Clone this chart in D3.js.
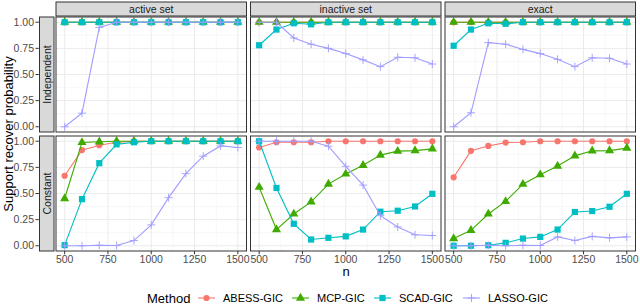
<!DOCTYPE html>
<html lang="en">
  <head>
    <meta charset="UTF-8" />
    <title>Support recover probability</title>
    <script src="https://d3js.org/d3.v7.min.js"></script>
    <style>
      body {
        margin: 0;
        background: #ffffff;
        font-family: "Liberation Sans", Arial, sans-serif;
      }
      .tick-label {
        font-size: 10.5px;
        fill: #4d4d4d;
      }
      .strip-text {
        font-size: 10.5px;
        fill: #1a1a1a;
      }
      .axis-title {
        font-size: 13px;
        fill: #000;
      }
    </style>
  </head>
  <body>
    <svg id="chart" width="640" height="306"></svg>

    <script>
      // sample sizes on the x axis
      const nValues = [500, 600, 700, 800, 900, 1000, 1100, 1200, 1300, 1400, 1500];
      const methods = ["ABESS-GIC", "MCP-GIC", "SCAD-GIC", "LASSO-GIC"];
      const colLabels = ["active set", "inactive set", "exact"];
      const rowLabels = ["Independent", "Constant"];
      const xTicks = [500, 750, 1000, 1250, 1500];
      const yTicks = [0, 0.25, 0.5, 0.75, 1];

      // each panel: [ABESS, MCP, SCAD, LASSO]
      const indActive = [
        [1, 1, 1, 1, 1, 1, 1, 1, 1, 1, 1],
        [1, 1, 1, 1, 1, 1, 1, 1, 1, 1, 1],
        [1, 1, 1, 1, 1, 1, 1, 1, 1, 1, 1],
        [0, 0.13, 0.95, 1, 1, 1, 1, 1, 1, 1, 1],
      ];
      const indInactive = [
        [1, 1, 1, 1, 1, 1, 1, 1, 1, 1, 1],
        [1, 1, 1, 1, 1, 1, 1, 1, 1, 1, 1],
        [0.78, 0.93, 0.99, 0.98, 1, 1, 1, 1, 1, 1, 1],
        [1, 1, 0.85, 0.79, 0.75, 0.7, 0.64, 0.575, 0.665, 0.66, 0.6],
      ];
      const indExact = [
        [1, 1, 1, 1, 1, 1, 1, 1, 1, 1, 1],
        [1, 1, 1, 1, 1, 1, 1, 1, 1, 1, 1],
        [0.775, 0.93, 0.99, 0.985, 1, 1, 1, 1, 1, 1, 1],
        [0, 0.134, 0.805, 0.79, 0.74, 0.7, 0.645, 0.575, 0.66, 0.655, 0.6],
      ];
      const conActive = [
        [0.67, 0.915, 0.962, 0.99, 1, 1, 1, 1, 1, 1, 1],
        [0.452, 0.988, 0.995, 1, 1, 1, 1, 1, 1, 1, 1],
        [0.006, 0.446, 0.79, 0.97, 0.99, 1, 1, 1, 1, 1, 1],
        [0, 0, 0.005, 0.002, 0.05, 0.2, 0.46, 0.69, 0.857, 0.955, 0.94],
      ];
      const conInactive = [
        [0.94, 0.99, 0.99, 0.99, 1, 1, 1, 1, 1, 1, 1],
        [0.56, 0.155, 0.304, 0.42, 0.59, 0.687, 0.77, 0.867, 0.905, 0.91, 0.927],
        [1, 0.553, 0.21, 0.06, 0.076, 0.09, 0.155, 0.326, 0.335, 0.376, 0.497],
        [1, 1, 1, 1, 0.952, 0.76, 0.58, 0.288, 0.18, 0.105, 0.098],
      ];
      const conExact = [
        [0.655, 0.908, 0.955, 0.987, 0.99, 1, 1, 1, 1, 1, 1],
        [0.069, 0.148, 0.304, 0.424, 0.589, 0.68, 0.763, 0.86, 0.908, 0.91, 0.934],
        [0, 0, 0.005, 0.028, 0.069, 0.085, 0.155, 0.323, 0.332, 0.373, 0.497],
        [0, 0, 0.005, 0, 0.005, 0.003, 0.085, 0.05, 0.09, 0.076, 0.085],
      ];

      const panelData = [
        [indActive, indInactive, indExact],
        [conActive, conInactive, conExact],
      ];

      const colors = ["#f8766d", "#3fab00", "#00bfc4", "#9f9cff"];
      const shapes = ["circle", "triangle", "square", "plus"];

      // layout
      const panelLeft = 56,
        panelW = 190.5,
        panelGap = 4,
        panelTops = [17, 136],
        panelH = 115;

      const svg = d3.select("#chart");

      const y = d3.scaleLinear().domain([-0.05, 1.05]).range([panelH, 0]);
      const x = d3.scaleLinear().domain([450, 1550]).range([0, panelW]);
      const minorX = [625, 875, 1125, 1375];
      const minorY = [0.125, 0.375, 0.625, 0.875];

      function drawMarker(g, shape, color) {
        if (shape === "circle") {
          g.append("circle").attr("r", 3.1).attr("fill", color);
        } else if (shape === "triangle") {
          g.append("path")
            .attr("d", d3.symbol(d3.symbolTriangle, 36)())
            .attr("fill", color);
        } else if (shape === "square") {
          g.append("rect")
            .attr("x", -3.1)
            .attr("y", -3.1)
            .attr("width", 6.2)
            .attr("height", 6.2)
            .attr("fill", color);
        } else {
          g.append("path")
            .attr("d", "M-4,0H4M0,-4V4")
            .attr("stroke", color)
            .attr("stroke-width", 0.9)
            .attr("fill", "none");
        }
      }

      panelData.forEach((row, ri) => {
        row.forEach((series, ci) => {
          const px = panelLeft + ci * (panelW + panelGap);
          const py = panelTops[ri];
          const g = svg.append("g").attr("transform", `translate(${px},${py})`);

          g.append("rect")
            .attr("width", panelW)
            .attr("height", panelH)
            .attr("fill", "#ffffff");

          // minor grid
          g.selectAll(".mx")
            .data(minorX)
            .join("line")
            .attr("x1", (d) => x(d))
            .attr("x2", (d) => x(d))
            .attr("y1", 0)
            .attr("y2", panelH)
            .attr("stroke", "#f2f2f2")
            .attr("stroke-width", 0.6);
          g.selectAll(".my")
            .data(minorY)
            .join("line")
            .attr("y1", (d) => y(d))
            .attr("y2", (d) => y(d))
            .attr("x1", 0)
            .attr("x2", panelW)
            .attr("stroke", "#f2f2f2")
            .attr("stroke-width", 0.6);

          // major grid
          g.selectAll(".gx")
            .data(xTicks)
            .join("line")
            .attr("x1", (d) => x(d))
            .attr("x2", (d) => x(d))
            .attr("y1", 0)
            .attr("y2", panelH)
            .attr("stroke", "#ebebeb")
            .attr("stroke-width", 1);
          g.selectAll(".gy")
            .data(yTicks)
            .join("line")
            .attr("y1", (d) => y(d))
            .attr("y2", (d) => y(d))
            .attr("x1", 0)
            .attr("x2", panelW)
            .attr("stroke", "#ebebeb")
            .attr("stroke-width", 1);

          const line = d3
            .line()
            .x((d, i) => x(nValues[i]))
            .y((d) => y(d));

          series.forEach((vals, mi) => {
            const sg = g.append("g");
            sg.append("path")
              .attr("d", line(vals))
              .attr("fill", "none")
              .attr("stroke", colors[mi])
              .attr("stroke-width", 1.1);
            vals.forEach((v, i) => {
              const mg = sg
                .append("g")
                .attr("transform", `translate(${x(nValues[i])},${y(v)})`);
              drawMarker(mg, shapes[mi], colors[mi]);
            });
          });

          // border
          g.append("rect")
            .attr("width", panelW)
            .attr("height", panelH)
            .attr("fill", "none")
            .attr("stroke", "#333333")
            .attr("stroke-width", 1);

          // top strip
          if (ri === 0) {
            svg.append("rect")
              .attr("x", px)
              .attr("y", 2)
              .attr("width", panelW)
              .attr("height", 14)
              .attr("fill", "#d9d9d9")
              .attr("stroke", "#333333")
              .attr("stroke-width", 1);
            svg.append("text")
              .attr("class", "strip-text")
              .attr("x", px + panelW / 2)
              .attr("y", 9)
              .attr("dy", "0.35em")
              .attr("text-anchor", "middle")
              .text(colLabels[ci]);
          }

          // x axis on bottom row
          if (ri === 1) {
            const ax = svg
              .append("g")
              .attr("transform", `translate(${px},${py + panelH})`);
            ax.selectAll("line")
              .data(xTicks)
              .join("line")
              .attr("x1", (d) => x(d))
              .attr("x2", (d) => x(d))
              .attr("y1", 0)
              .attr("y2", 3.3)
              .attr("stroke", "#333333");
            ax.selectAll("text")
              .data(xTicks)
              .join("text")
              .attr("class", "tick-label")
              .attr("x", (d) => x(d))
              .attr("y", 12)
              .attr("text-anchor", "middle")
              .text((d) => d);
          }
        });

        // row strip and y axis
        const py = panelTops[ri];
        svg.append("rect")
          .attr("x", 39.5)
          .attr("y", py)
          .attr("width", 14.5)
          .attr("height", panelH)
          .attr("fill", "#d9d9d9")
          .attr("stroke", "#333333")
          .attr("stroke-width", 1);
        svg.append("text")
          .attr("class", "strip-text")
          .attr("transform", `translate(${47},${py + panelH / 2})rotate(-90)`)
          .attr("dy", "0.35em")
          .attr("text-anchor", "middle")
          .text(rowLabels[ri]);

        const ay = svg.append("g").attr("transform", `translate(0,${py})`);
        ay.selectAll("line")
          .data(yTicks)
          .join("line")
          .attr("x1", 35.5)
          .attr("x2", 38.8)
          .attr("y1", (d) => y(d))
          .attr("y2", (d) => y(d))
          .attr("stroke", "#333333");
        ay.selectAll("text")
          .data(yTicks)
          .join("text")
          .attr("class", "tick-label")
          .attr("x", 34)
          .attr("y", (d) => y(d))
          .attr("dy", "0.35em")
          .attr("text-anchor", "end")
          .text((d) => d.toFixed(2));
      });

      // axis titles
      svg.append("text")
        .attr("class", "axis-title")
        .attr("transform", `translate(8.5,${(17 + 251) / 2})rotate(-90)`)
        .attr("dy", "0.35em")
        .attr("text-anchor", "middle")
        .text("Support recover probability");

      svg.append("text")
        .attr("class", "axis-title")
        .attr("x", 346)
        .attr("y", 271)
        .attr("dy", "0.35em")
        .attr("text-anchor", "middle")
        .text("n");

      // legend
      const legendY = 298;
      svg.append("text")
        .attr("class", "axis-title")
        .attr("x", 147)
        .attr("y", legendY)
        .attr("dy", "0.35em")
        .text("Method");

      const legendX = [198, 292, 374, 463];
      methods.forEach((m, i) => {
        const lg = svg.append("g").attr("transform", `translate(${legendX[i]},${legendY})`);
        lg.append("line")
          .attr("x1", 0)
          .attr("x2", 17)
          .attr("stroke", colors[i])
          .attr("stroke-width", 1.1);
        const mg = lg.append("g").attr("transform", "translate(8.5,0)");
        drawMarker(mg, shapes[i], colors[i]);
        lg.append("text")
          .attr("class", "tick-label")
          .attr("x", 25)
          .attr("dy", "0.35em")
          .style("fill", "#000")
          .style("font-size", "11px")
          .text(m);
      });
    </script>
  </body>
</html>
